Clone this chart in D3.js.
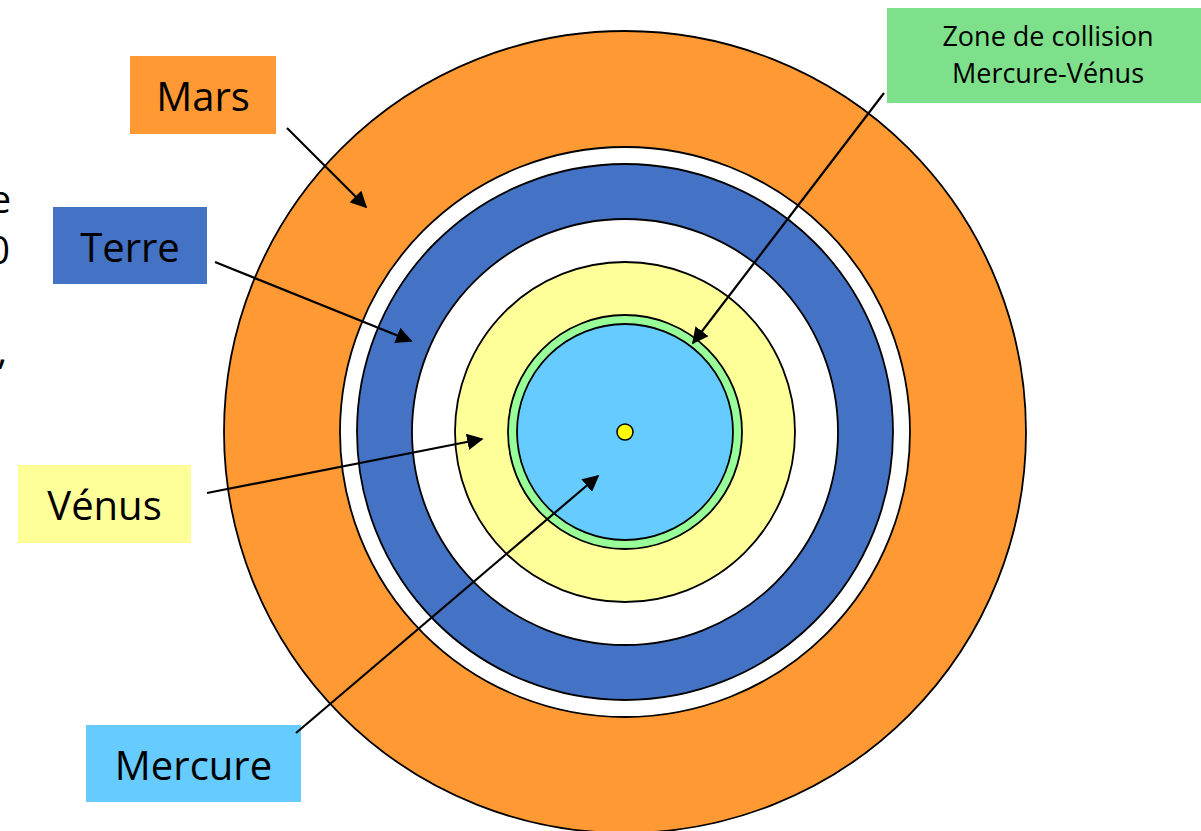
<!DOCTYPE html>
<html>
<head>
<meta charset="utf-8">
<script src="https://cdn.jsdelivr.net/npm/d3@7"></script>
<style>
body { margin: 0; background: #fff; }
svg { display: block; }
</style>
</head>
<body>
<svg id="chart" width="1201" height="831"></svg>
<script>
// orbital zones, drawn from the outside in (radius units)
var ringNames = ["Mars", "gap", "Terre", "gap2", "Vénus", "Collision", "Mercure", "Soleil"]
var ringRadius = [401, 285, 268, 213, 170, 117, 108, 8]
var ringColor = ["#FF9933", "#FFFFFF", "#4472C4", "#FFFFFF", "#FFFF99", "#99FF99", "#66CCFF", "#FFFF00"]

// labels
var labelText = ["Mars", "Terre", "Vénus", "Mercure"]
var labelColor = ["#FF9933", "#4472C4", "#FFFF99", "#66CCFF"]
var zoneText = ["Zone de collision", "Mercure-Vénus"]

const CX = 625, CY = 432
const FONT = "'Open Sans', Lato, sans-serif"
var chart = d3.select("#chart")

var r = d3.scaleLinear().domain([0, 401]).range([0, 401])

var g = chart.append("g").attr("transform", "translate(" + CX + "," + CY + ")")
g.selectAll("circle").data(ringRadius)
	.enter().append("circle")
		.attr("r", d => r(d))
		.attr("fill", (_, i) => ringColor[i])
		.attr("stroke", "black")
		.attr("stroke-width", (_, i) => i == 7 ? 1.5 : 1.8)

// cut off text on left edge (slide text behind the picture)
var edge = chart.append("g").attr("font-family", FONT).attr("font-size", "38px")
edge.append("text").attr("x", 11).attr("y", 213).attr("text-anchor", "end").text("e")
edge.append("text").attr("x", 10).attr("y", 264).attr("text-anchor", "end").text("0")
edge.append("text").attr("x", 7).attr("y", 364).attr("text-anchor", "end").text(",")

// label boxes
var boxes = [
	{ x: 130, y: 56, w: 146, h: 78 },
	{ x: 53, y: 207, w: 154, h: 77 },
	{ x: 18, y: 465, w: 173, h: 78 },
	{ x: 86, y: 725, w: 215, h: 77 }
]
var lab = chart.selectAll("g.lab").data(labelText)
	.enter().append("g").attr("class", "lab")
lab.append("rect")
	.attr("x", (_, i) => boxes[i].x)
	.attr("y", (_, i) => boxes[i].y)
	.attr("width", (_, i) => boxes[i].w)
	.attr("height", (_, i) => boxes[i].h)
	.attr("fill", (_, i) => labelColor[i])
lab.append("text")
	.attr("x", (_, i) => boxes[i].x + boxes[i].w / 2)
	.attr("y", (_, i) => boxes[i].y + 55)
	.attr("text-anchor", "middle")
	.attr("font-family", FONT)
	.attr("font-size", "40px")
	.attr("fill", "#000")
	.text(d => d)

chart.append("rect")
	.attr("x", 887).attr("y", 8).attr("width", 314).attr("height", 95)
	.attr("fill", "#7EE08A")
chart.selectAll("text.zone").data(zoneText)
	.enter().append("text").attr("class", "zone")
		.attr("x", 1048)
		.attr("y", (_, i) => 46 + i * 37)
		.attr("text-anchor", "middle")
		.attr("font-family", FONT)
		.attr("font-size", "27px")
		.attr("fill", "#000")
		.text(d => d)

// arrows
chart.append("defs").append("marker")
	.attr("id", "head")
	.attr("viewBox", "0 0 10 10")
	.attr("refX", 9).attr("refY", 5)
	.attr("markerWidth", 7.5).attr("markerHeight", 7.5)
	.attr("orient", "auto")
	.append("path").attr("d", "M0,0 L10,5 L0,10 z").attr("fill", "black")

var arrows = [
	[287, 128, 366, 207],
	[215, 262, 411, 341],
	[207, 493, 482, 439],
	[296, 733, 598, 476],
	[884, 93, 693, 343]
]
chart.selectAll("line.arrow").data(arrows)
	.enter().append("line").attr("class", "arrow")
		.attr("x1", d => d[0]).attr("y1", d => d[1])
		.attr("x2", d => d[2]).attr("y2", d => d[3])
		.attr("stroke", "black")
		.attr("stroke-width", 2.2)
		.attr("marker-end", "url(#head)")
</script>
</body>
</html>
